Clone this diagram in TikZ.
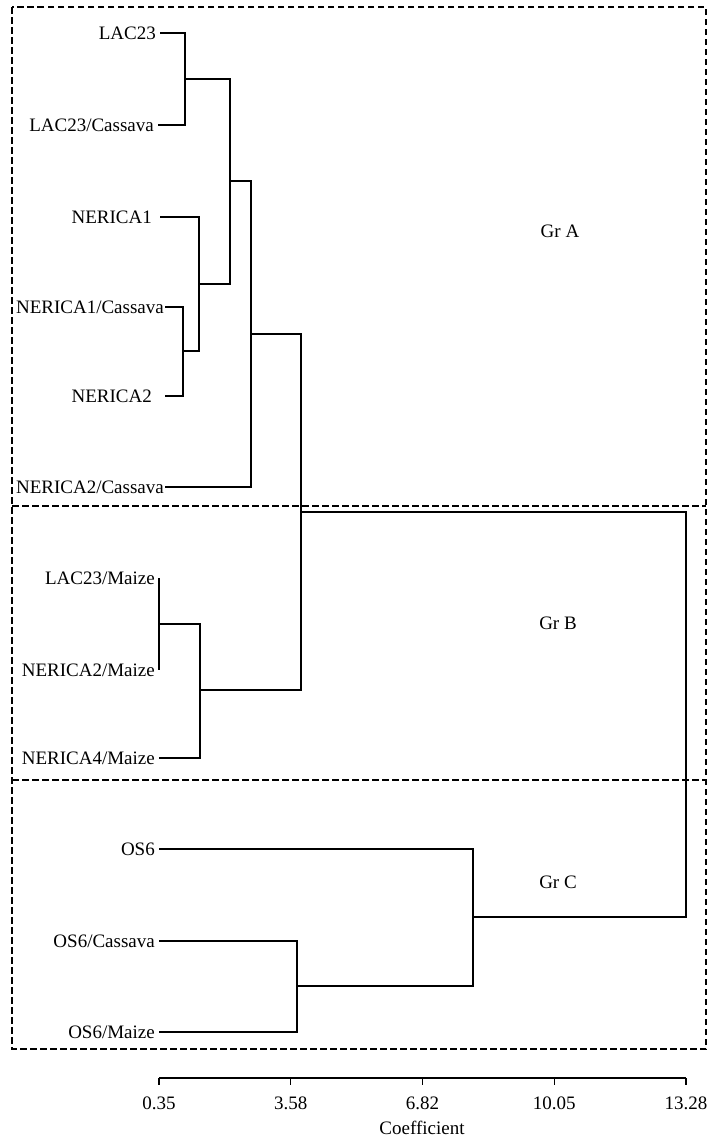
\documentclass[tikz,border=0pt]{standalone}
\usepackage{fontspec}
\setmainfont{Liberation Serif}
\usepackage{tikz}

\begin{document}
\begin{tikzpicture}[x=1pt,y=-1pt,
  font=\fontsize{19}{22}\selectfont,
  leaf/.style={anchor=base east,inner sep=0pt,xshift=-4pt,yshift=-6.3pt},
  tree/.style={line width=1.3pt},
  groupbox/.style={line width=1.3pt,dash pattern=on 6.5pt off 3.5pt}]
\useasboundingbox (0,0) rectangle (710,1138);

% Group boxes
\draw[groupbox] (12,7) rectangle (706,1049);
\draw[groupbox] (12,506) -- (706,506);
\draw[groupbox] (12,780) -- (706,780);
\node (gra) at (560,231) {Gr A};
\node (grb) at (558,623) {Gr B};
\node (grc) at (558,882) {Gr C};

% Leaves
\coordinate (lac23) at (160,33);   \node[leaf] at (lac23) {LAC23};
\coordinate (lac23c) at (158,125); \node[leaf] at (lac23c) {LAC23/Cassava};
\coordinate (ner1) at (160,217);   \node[leaf,xshift=-4pt] at (ner1) {NERICA1};
\coordinate (ner1c) at (165,307);  \node[leaf,xshift=3pt] at (ner1c) {NERICA1/Cassava};
\coordinate (ner2) at (165,396);   \node[leaf,xshift=-9pt] at (ner2) {NERICA2};
\coordinate (ner2c) at (165,487);  \node[leaf,xshift=3pt] at (ner2c) {NERICA2/Cassava};
\coordinate (lacm) at (159,578);   \node[leaf] at (lacm) {LAC23/Maize};
\coordinate (ner2m) at (159,670);  \node[leaf] at (ner2m) {NERICA2/Maize};
\coordinate (ner4m) at (159,758);  \node[leaf] at (ner4m) {NERICA4/Maize};
\coordinate (os6) at (159,849);    \node[leaf] at (os6) {OS6};
\coordinate (os6c) at (159,941);   \node[leaf] at (os6c) {OS6/Cassava};
\coordinate (os6m) at (159,1032);  \node[leaf] at (os6m) {OS6/Maize};

% Merges, group A
\coordinate (m1) at (185,79);
\coordinate (m2) at (183,351);
\coordinate (m3) at (199,284);
\coordinate (m4) at (230,181);
\coordinate (m5) at (251,334);
\draw[tree] (lac23) -| (m1) |- (lac23c);
\draw[tree] (ner1c) -| (m2) |- (ner2);
\draw[tree] (ner1) -| (m3) |- (m2);
\draw[tree] (m1) -| (m4) |- (m3);
\draw[tree] (m4) -| (m5) |- (ner2c);

% Merges, group B
\coordinate (m6) at (159,624);
\coordinate (m7) at (200,690);
\coordinate (m8) at (301,512);
\draw[tree] (lacm) -| (m6) |- (ner2m);
\draw[tree] (m6) -| (m7) |- (ner4m);
\draw[tree] (m5) -| (m8) |- (m7);

% Merges, group C
\coordinate (m9) at (297,986);
\coordinate (m10) at (473,917);
\coordinate (m11) at (686,714);
\draw[tree] (os6c) -| (m9) |- (os6m);
\draw[tree] (os6) -| (m10) |- (m9);
\draw[tree] (m8) -| (m11) |- (m10);

% Axis
\draw[tree] (159,1078) -- (686,1078);
\foreach \v [count=\i from 0] in {0.35,3.58,6.82,10.05,13.28}{
  \draw[tree] (159+131.75*\i,1078) -- ++(0,7);
  \node[anchor=base] at (159+131.75*\i,1109.5) {\v};
}
\node[anchor=base] (coef) at (422,1134) {Coefficient};
\end{tikzpicture}
\end{document}
